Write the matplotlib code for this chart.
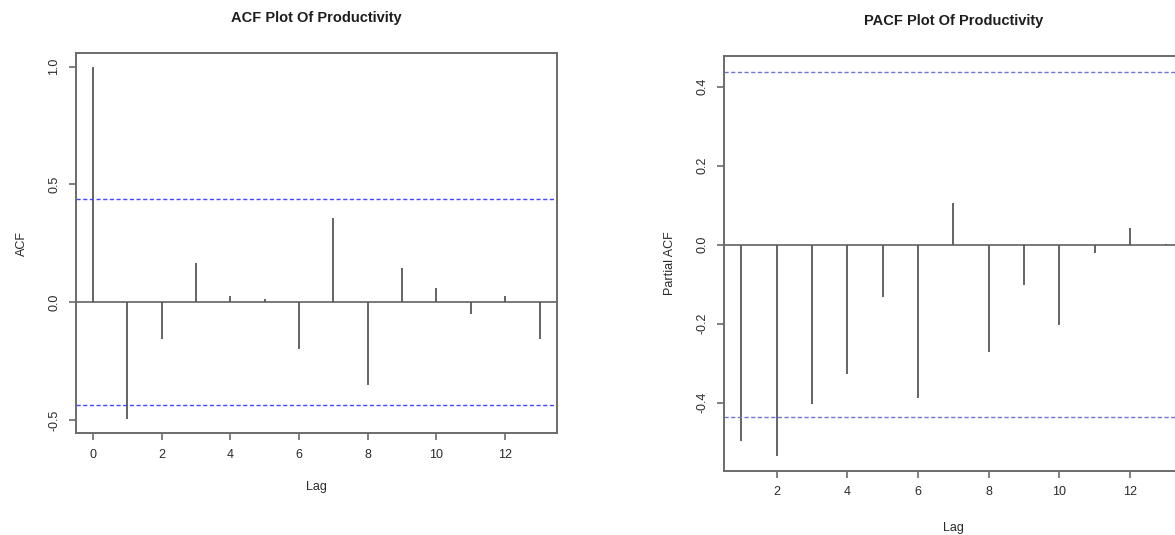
import numpy as np
import matplotlib
matplotlib.use("Agg")
import matplotlib.pyplot as plt

plt.rcParams["font.family"] = ["Liberation Sans", "DejaVu Sans"]

# valores
acf_lags = np.arange(0, 14)
acf_vals = [1.0, -0.497, -0.158, 0.167, 0.025, 0.015, -0.20,
            0.357, -0.353, 0.147, 0.061, -0.052, 0.025, -0.155]

pacf_lags = np.arange(1, 14)
pacf_vals = [-0.496, -0.535, -0.403, -0.328, -0.132, -0.389, 0.106,
             -0.271, -0.103, -0.203, -0.022, 0.043, 0.002]

conf_bound = 0.437

texto = "#2a2a2a"
borda = "#6b6b6b"


def desenhar_correlograma(ax, lags, vals, titulo, ylabel, cor_conf, xlim, ylim,
                          yticks, xticks, pad_lag, pad_titulo):
    ax.vlines(lags, 0, vals, color="#3a3a3a", linewidth=1.1)
    ax.axhline(0, color="#555555", linewidth=1.1)
    ax.axhline(conf_bound, color=cor_conf, linewidth=1.0, dashes=(3, 1.8))
    ax.axhline(-conf_bound, color=cor_conf, linewidth=1.0, dashes=(3, 1.8))

    ax.set_xlim(*xlim)
    ax.set_ylim(*ylim)
    ax.set_xticks(xticks)
    ax.set_yticks(yticks)
    ax.set_yticklabels([f"{v:.1f}" for v in yticks], rotation=90, va="center")

    for s in ax.spines.values():
        s.set_color(borda)
        s.set_linewidth(1.4)
    ax.tick_params(direction="out", length=5, width=1.2, color=borda,
                   labelsize=9, labelcolor=texto, pad=6)

    ax.set_title(titulo, fontsize=10.5, fontweight="bold", color="#1e1e1e",
                 pad=pad_titulo)
    ax.set_xlabel("Lag", fontsize=9, color=texto, labelpad=pad_lag)
    ax.set_ylabel(ylabel, fontsize=9, color=texto, labelpad=15)


fig = plt.figure(figsize=(11.75, 5.35), dpi=100)

ax1 = fig.add_axes([0.0644, 0.190, 0.4094, 0.711])
desenhar_correlograma(ax1, acf_lags, acf_vals, "ACF Plot Of Productivity", "ACF",
                      "#4747ff", (-0.5, 13.5), (-0.557, 1.058),
                      [-0.5, 0.0, 0.5, 1.0], [0, 2, 4, 6, 8, 10, 12], 15, 22)

ax2 = fig.add_axes([0.6164, 0.1196, 0.39, 0.776])
desenhar_correlograma(ax2, pacf_lags, pacf_vals, "PACF Plot Of Productivity",
                      "Partial ACF", "#7373d8", (0.52, 13.48), (-0.573, 0.478),
                      [-0.4, -0.2, 0.0, 0.2, 0.4], [2, 4, 6, 8, 10, 12], 17, 22)

fig.savefig("out.png", dpi=100)
plt.close(fig)
